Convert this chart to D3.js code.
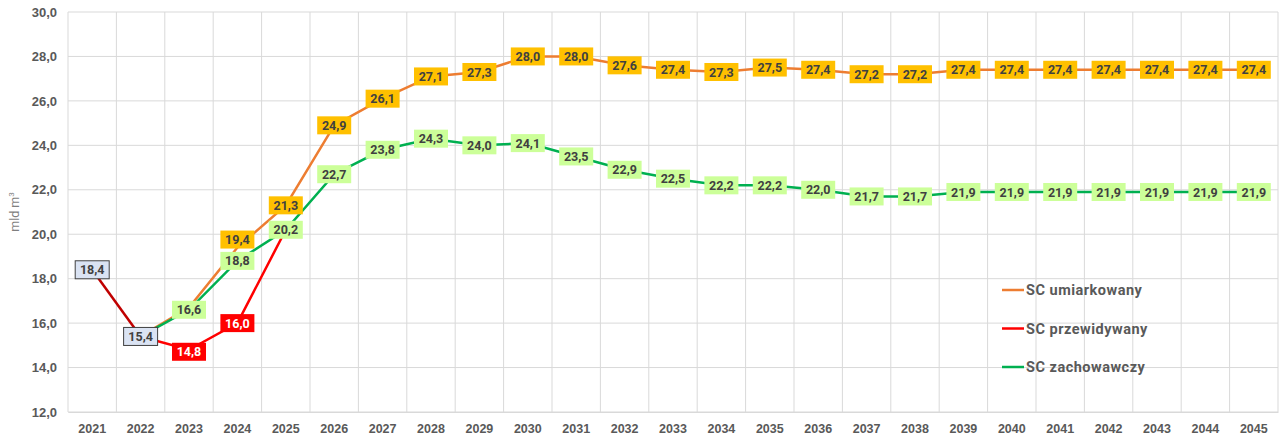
<!DOCTYPE html>
<html><head><meta charset="utf-8">
<script src="https://cdn.jsdelivr.net/npm/d3@7"></script>
<style>body{margin:0;background:#fff;} svg{display:block;font-family:Roboto, "Noto Sans", sans-serif;}</style>
</head><body><svg id="c" width="1284" height="437"></svg>
<script>
const years = ["2021","2022","2023","2024","2025","2026","2027","2028","2029","2030","2031","2032","2033","2034","2035","2036","2037","2038","2039","2040","2041","2042","2043","2044","2045"];
const yTicks = [12,14,16,18,20,22,24,26,28,30];
const histYears = ["2021","2022"];
const histValues = [18.4, 15.4];
const predYears = ["2022","2023","2024","2025"];
const predValues = [15.4, 14.8, 16.0, 20.2];
const umiarValues = [null, 15.4, 16.7, 19.4, 21.3, 24.9, 26.1, 27.1, 27.3, 28.0, 28.0, 27.6, 27.4, 27.3, 27.5, 27.4, 27.2, 27.2, 27.4, 27.4, 27.4, 27.4, 27.4, 27.4, 27.4];
const zachValues = [null, 15.4, 16.6, 18.8, 20.2, 22.7, 23.8, 24.3, 24.0, 24.1, 23.5, 22.9, 22.5, 22.2, 22.2, 22.0, 21.7, 21.7, 21.9, 21.9, 21.9, 21.9, 21.9, 21.9, 21.9];
const legendNames = ["SC umiarkowany","SC przewidywany","SC zachowawczy"];

const svg = d3.select("#c");
const L = 68, R = 1278, T = 12, B = 412;
const x = d3.scaleBand().domain(years).range([L, R]);
const y = d3.scaleLinear().domain([12, 30]).range([B, T]);
const cx = d => x(d) + x.bandwidth()/2;

// grid
svg.append("g").selectAll("line").data(yTicks).join("line")
  .attr("x1", L).attr("x2", R).attr("y1", d=>y(d)).attr("y2", d=>y(d))
  .attr("stroke", "#d9d9d9").attr("stroke-width", 1);
svg.append("g").selectAll("line").data(years.concat(["end"])).join("line")
  .attr("x1", (d,i)=> L + i*x.bandwidth()).attr("x2", (d,i)=> L + i*x.bandwidth())
  .attr("y1", T).attr("y2", B).attr("stroke", "#d9d9d9").attr("stroke-width", 1);

// axes
const ya = svg.append("g").attr("transform", `translate(${L},0)`)
  .call(d3.axisLeft(y).tickValues(yTicks).tickSize(0).tickPadding(11).tickFormat(d => d3.format(".1f")(d).replace(".", ",")));
ya.select(".domain").remove();
ya.selectAll("text").attr("fill", "#595959").attr("font-size", 13).attr("font-weight", "bold");
const xa = svg.append("g").attr("transform", `translate(0,${B})`)
  .call(d3.axisBottom(x).tickSize(0).tickPadding(12));
xa.select(".domain").attr("stroke", "#d9d9d9");
xa.selectAll("text").attr("fill", "#595959").attr("font-size", 12.5).attr("font-weight", "bold");

svg.append("text").attr("transform", "translate(19,212) rotate(-90)")
  .attr("text-anchor", "middle").attr("fill", "#7f7f7f").attr("font-size", 12.5)
  .html('mld m<tspan dy="-5" font-size="8">3</tspan>');

const line = d3.line().defined(d => d[1] != null).x(d => cx(d[0])).y(d => y(d[1]));
function drawLine(yrs, vals, color) {
  svg.append("path").datum(yrs.map((yy,i)=>[yy, vals[i]]))
    .attr("d", line).attr("fill", "none").attr("stroke", color).attr("stroke-width", 2.5);
}
drawLine(years, umiarValues, "#ed7d31");
drawLine(predYears, predValues, "#ff0000");
drawLine(years, zachValues, "#00b050");
drawLine(histYears, histValues, "#c00000");

const fmt = v => d3.format(".1f")(v).replace(".", ",");
function labels(data, bg, fg, stroke, skip, dyMap) {
  const g = svg.append("g").selectAll("g").data(data.filter(d => d[1] != null && !skip.includes(d[0]))).join("g")
    .attr("transform", d => `translate(${cx(d[0])},${y(d[1]) + (dyMap[d[0]]||0)})`);
  g.append("rect").attr("x", -17).attr("y", -9).attr("width", 34).attr("height", 18)
    .attr("fill", bg).attr("stroke", stroke || "none").attr("stroke-width", 1);
  g.append("text").attr("text-anchor", "middle").attr("dy", "0.36em")
    .attr("fill", fg).attr("font-size", 12.5).attr("font-weight", "bold").text(d => fmt(d[1]));
}
labels(years.map((yy,i)=>[yy, umiarValues[i]]), "#ffc000", "#404040", null, ["2022","2023"], {"2024": -8});
labels(years.map((yy,i)=>[yy, zachValues[i]]), "#ccff99", "#404040", null, ["2022"], {});
labels(predYears.map((yy,i)=>[yy, predValues[i]]), "#ff0000", "#ffffff", null, ["2022","2025"], {"2023": 2});
labels(histYears.map((yy,i)=>[yy, histValues[i]]), "#dae3f3", "#404040", "#404040", [], {});

// legend
const legColors = ["#ed7d31","#ff0000","#00b050"];
const lg = svg.append("g").selectAll("g").data(legendNames).join("g")
  .attr("transform", (d,i) => `translate(1002,${290 + i*38.5})`);
lg.append("line").attr("x1", 0).attr("x2", 22).attr("stroke", (d,i)=>legColors[i]).attr("stroke-width", 2.5);
lg.append("text").attr("x", 24).attr("dy", "0.36em").attr("fill", "#595959")
  .attr("font-size", 14.5).attr("letter-spacing", 0.5).attr("font-weight", "bold").text(d => d);
</script></body></html>
